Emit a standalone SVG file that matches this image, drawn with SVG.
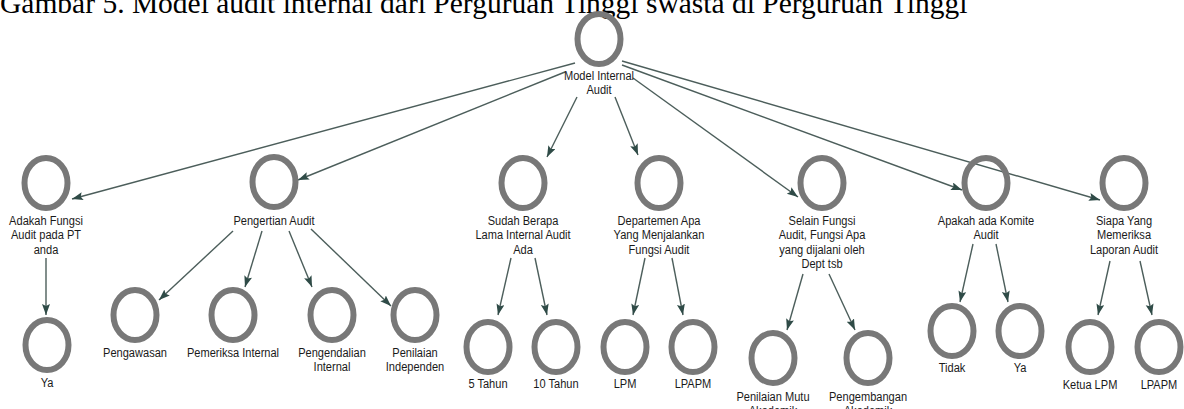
<svg xmlns="http://www.w3.org/2000/svg" width="1184" height="409" viewBox="0 0 1184 409">
<style>
.ring{fill:none;stroke:#787878;stroke-width:6}
.lbl{font-family:"Liberation Sans",Arial,sans-serif;font-size:13.5px;fill:#1a1a1a;text-anchor:middle}
.edge{fill:none;stroke:#4c5e5b;stroke-width:1.4;marker-end:url(#arr)}
.title{font-family:"Liberation Serif","Times New Roman",serif;font-size:29.5px;fill:#000}
</style>
<defs>
<marker id="arr" markerUnits="userSpaceOnUse" markerWidth="12" markerHeight="9" refX="11" refY="4" orient="auto">
<path d="M0,0 L11,4 L0,8 L2,4 z" fill="#2f4b47"/>
</marker>
</defs>
<rect width="1184" height="409" fill="#fff"/>
<text class="title" x="0" y="13">Gambar 5. Model audit internal dari Perguruan Tinggi swasta di Perguruan Tinggi</text>
<g id="connectors">
<path class="edge" d="M575,63 L72,199"/>
<path class="edge" d="M565,72 L298,180"/>
<path class="edge" d="M577,97 L547,157"/>
<path class="edge" d="M615,97 L638,155"/>
<path class="edge" d="M633,78 L798,197"/>
<path class="edge" d="M622,65 L962,190"/>
<path class="edge" d="M622,61 L1100,200"/>
<path class="edge" d="M46,258 L46,315"/>
<path class="edge" d="M233,231 L159,300"/>
<path class="edge" d="M262,231 L245,287"/>
<path class="edge" d="M289,231 L312,287"/>
<path class="edge" d="M311,229 L391,306"/>
<path class="edge" d="M511,258 L498,315"/>
<path class="edge" d="M535,258 L547,315"/>
<path class="edge" d="M645,258 L633,315"/>
<path class="edge" d="M672,258 L683,315"/>
<path class="edge" d="M803,274 L787,330"/>
<path class="edge" d="M829,274 L855,330"/>
<path class="edge" d="M973,244 L960,302"/>
<path class="edge" d="M996,244 L1008,302"/>
<path class="edge" d="M1110,261 L1098,315"/>
<path class="edge" d="M1140,261 L1152,315"/>
</g>
<g id="root" transform="translate(599,39)"><ellipse class="ring" rx="21.5" ry="25"/><text class="lbl" transform="scale(0.82,1)" y="41"><tspan x="0">Model Internal</tspan><tspan x="0" dy="14.5">Audit</tspan></text></g>
<g id="adakah" transform="translate(46,183)"><ellipse class="ring" rx="21.5" ry="25"/><text class="lbl" transform="scale(0.82,1)" y="42"><tspan x="0">Adakah Fungsi</tspan><tspan x="0" dy="14.5">Audit pada PT</tspan><tspan x="0" dy="14.5">anda</tspan></text></g>
<g id="pengertian" transform="translate(274,182)"><ellipse class="ring" rx="21.5" ry="25"/><text class="lbl" transform="scale(0.82,1)" y="43"><tspan x="0">Pengertian Audit</tspan></text></g>
<g id="sudah" transform="translate(523,183)"><ellipse class="ring" rx="21.5" ry="25"/><text class="lbl" transform="scale(0.82,1)" y="42"><tspan x="0">Sudah Berapa</tspan><tspan x="0" dy="14.5">Lama Internal Audit</tspan><tspan x="0" dy="14.5">Ada</tspan></text></g>
<g id="departemen" transform="translate(659,183)"><ellipse class="ring" rx="21.5" ry="25"/><text class="lbl" transform="scale(0.82,1)" y="42"><tspan x="0">Departemen Apa</tspan><tspan x="0" dy="14.5">Yang Menjalankan</tspan><tspan x="0" dy="14.5">Fungsi Audit</tspan></text></g>
<g id="selain" transform="translate(822,183)"><ellipse class="ring" rx="21.5" ry="25"/><text class="lbl" transform="scale(0.82,1)" y="42"><tspan x="0">Selain Fungsi</tspan><tspan x="0" dy="14.5">Audit, Fungsi Apa</tspan><tspan x="0" dy="14.5">yang dijalani oleh</tspan><tspan x="0" dy="14.5">Dept tsb</tspan></text></g>
<g id="apakah" transform="translate(986,183)"><ellipse class="ring" rx="21.5" ry="25"/><text class="lbl" transform="scale(0.82,1)" y="42"><tspan x="0">Apakah ada Komite</tspan><tspan x="0" dy="14.5">Audit</tspan></text></g>
<g id="siapa" transform="translate(1124,183)"><ellipse class="ring" rx="21.5" ry="25"/><text class="lbl" transform="scale(0.82,1)" y="42"><tspan x="0">Siapa Yang</tspan><tspan x="0" dy="14.5">Memeriksa</tspan><tspan x="0" dy="14.5">Laporan Audit</tspan></text></g>
<g id="ya1" transform="translate(47,345)"><ellipse class="ring" rx="21.5" ry="25"/><text class="lbl" transform="scale(0.82,1)" y="42"><tspan x="0">Ya</tspan></text></g>
<g id="pengawasan" transform="translate(135,315)"><ellipse class="ring" rx="21.5" ry="25"/><text class="lbl" transform="scale(0.82,1)" y="42"><tspan x="0">Pengawasan</tspan></text></g>
<g id="pemeriksa" transform="translate(233,315)"><ellipse class="ring" rx="21.5" ry="25"/><text class="lbl" transform="scale(0.82,1)" y="42"><tspan x="0">Pemeriksa Internal</tspan></text></g>
<g id="pengendalian" transform="translate(332,315)"><ellipse class="ring" rx="21.5" ry="25"/><text class="lbl" transform="scale(0.82,1)" y="42"><tspan x="0">Pengendalian</tspan><tspan x="0" dy="14.5">Internal</tspan></text></g>
<g id="penilaian" transform="translate(415,315)"><ellipse class="ring" rx="21.5" ry="25"/><text class="lbl" transform="scale(0.82,1)" y="42"><tspan x="0">Penilaian</tspan><tspan x="0" dy="14.5">Independen</tspan></text></g>
<g id="tahun5" transform="translate(488,347)"><ellipse class="ring" rx="21.5" ry="25"/><text class="lbl" transform="scale(0.82,1)" y="41"><tspan x="0">5 Tahun</tspan></text></g>
<g id="tahun10" transform="translate(556,347)"><ellipse class="ring" rx="21.5" ry="25"/><text class="lbl" transform="scale(0.82,1)" y="41"><tspan x="0">10 Tahun</tspan></text></g>
<g id="lpm" transform="translate(625,347)"><ellipse class="ring" rx="21.5" ry="25"/><text class="lbl" transform="scale(0.82,1)" y="41"><tspan x="0">LPM</tspan></text></g>
<g id="lpapm1" transform="translate(693,347)"><ellipse class="ring" rx="21.5" ry="25"/><text class="lbl" transform="scale(0.82,1)" y="41"><tspan x="0">LPAPM</tspan></text></g>
<g id="mutu" transform="translate(773,358)"><ellipse class="ring" rx="21.5" ry="25"/><text class="lbl" transform="scale(0.82,1)" y="43"><tspan x="0">Penilaian Mutu</tspan><tspan x="0" dy="14.5">Akademik</tspan></text></g>
<g id="pengembangan" transform="translate(868,358)"><ellipse class="ring" rx="21.5" ry="25"/><text class="lbl" transform="scale(0.82,1)" y="43"><tspan x="0">Pengembangan</tspan><tspan x="0" dy="14.5">Akademik</tspan></text></g>
<g id="tidak" transform="translate(952,331)"><ellipse class="ring" rx="21.5" ry="25"/><text class="lbl" transform="scale(0.82,1)" y="41"><tspan x="0">Tidak</tspan></text></g>
<g id="ya2" transform="translate(1020,331)"><ellipse class="ring" rx="21.5" ry="25"/><text class="lbl" transform="scale(0.82,1)" y="41"><tspan x="0">Ya</tspan></text></g>
<g id="ketua" transform="translate(1090,347)"><ellipse class="ring" rx="21.5" ry="25"/><text class="lbl" transform="scale(0.82,1)" y="42"><tspan x="0">Ketua LPM</tspan></text></g>
<g id="lpapm2" transform="translate(1159,347)"><ellipse class="ring" rx="21.5" ry="25"/><text class="lbl" transform="scale(0.82,1)" y="42"><tspan x="0">LPAPM</tspan></text></g>
</svg>
